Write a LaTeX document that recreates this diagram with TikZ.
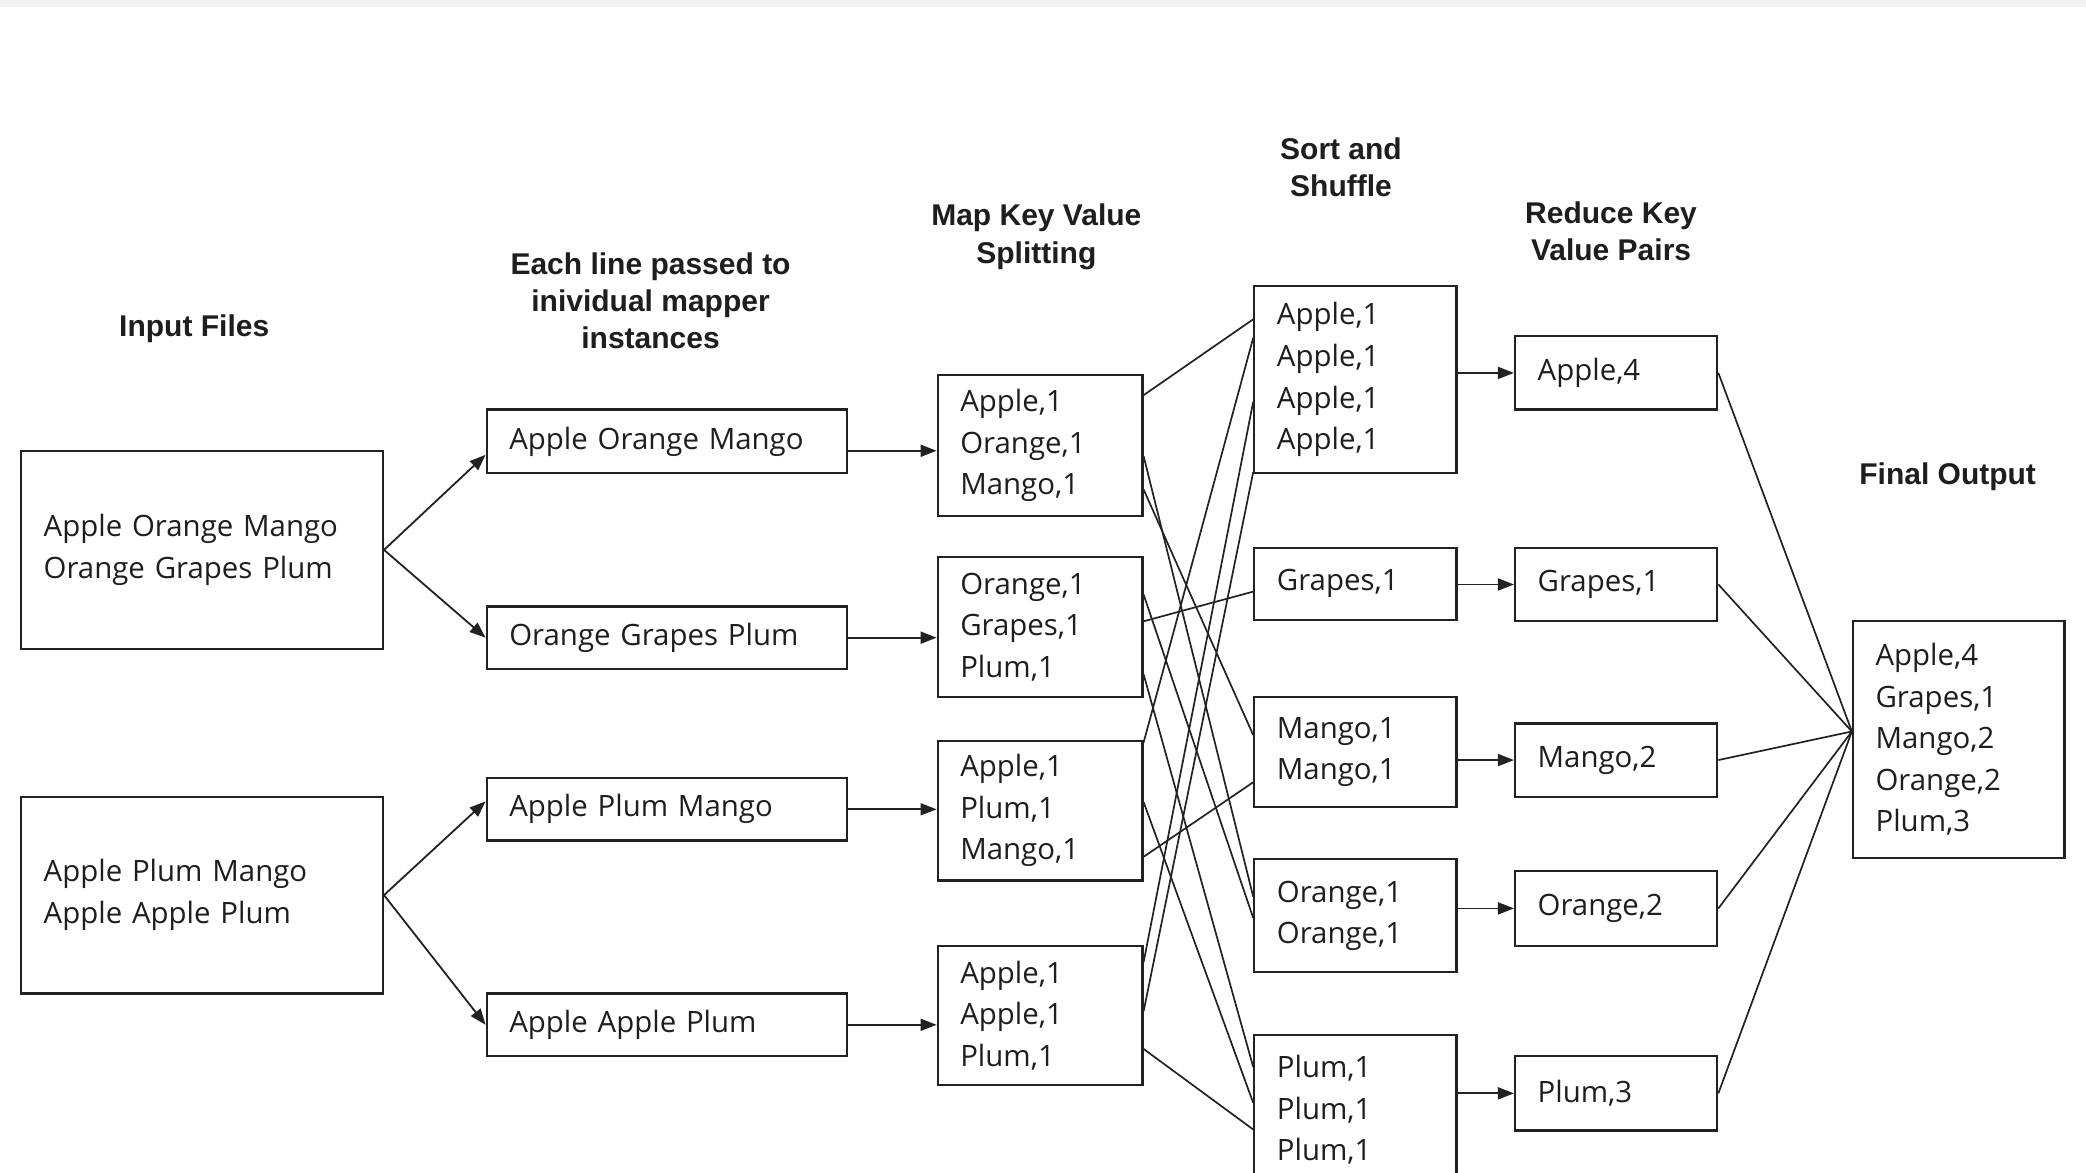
\documentclass[tikz,border=0pt]{standalone}
\usepackage{fontspec}
\setmainfont{Open Sans}
\newfontfamily\headfont{Liberation Sans}
\usetikzlibrary{arrows.meta,calc}

\definecolor{ink}{HTML}{1E1E1E}
\definecolor{linec}{HTML}{222222}
\definecolor{band}{HTML}{F2F2F2}

% one drawing unit = 0.6652pt, y grows downwards
\newcommand\databox[6]{%
  \pgfmathsetlengthmacro\bw{#4*0.6652pt}%
  \pgfmathsetlengthmacro\bh{#5*0.6652pt}%
  \pgfmathsetlengthmacro\tw{(#4-34)*0.6652pt}%
  \node[box, minimum width=\bw, minimum height=\bh, text width=\tw] (#1) at (#2,#3) {#6};}

\begin{document}
\begin{tikzpicture}[x=0.6652pt, y=-0.6652pt,
  box/.style={draw=linec, line width=1.1pt, anchor=north west, align=left,
    inner xsep=11.31pt, inner ysep=0pt, text=ink,
    font=\fontsize{14.7}{20.8}\selectfont},
  head/.style={align=center, text=ink,
    font=\headfont\bfseries\fontsize{15}{18.6}\selectfont},
  arr/.style={draw=linec, line width=0.9pt, -{Triangle[length=8pt,width=6pt]}},
  wire/.style={draw=linec, line width=0.85pt}]

\useasboundingbox (0,0) rectangle (1568,881);
\clip (0,0) rectangle (1568,881);
\fill[white] (0,0) rectangle (1568,881);
\fill[band] (0,0) rectangle (1568,5.5);

% column headings
\node[head] (hIn)  at (146,247) {Input Files};
\node[head] (hMap) at (489,226) {Each line passed to\\inividual mapper\\instances};
\node[head] (hKV)  at (779,178) {Map Key Value\\Splitting};
\node[head] (hSS)  at (1008,126) {Sort and\\Shuffle};
\node[head] (hRed) at (1211,174) {Reduce Key\\Value Pairs};
\node[head] (hOut) at (1464,358) {Final Output};

% input files
\databox{In1}{15}{338}{272}{149}{Apple Orange Mango\\Orange Grapes Plum}
\databox{In2}{15}{598}{272}{148}{Apple Plum Mango\\Apple Apple Plum}

% one line per mapper
\databox{M1}{365}{307}{271}{48}{Apple Orange Mango}
\databox{M2}{365}{455}{271}{47}{Orange Grapes Plum}
\databox{M3}{365}{584}{271}{47}{Apple Plum Mango}
\databox{M4}{365}{746}{271}{47}{Apple Apple Plum}

% map output
\databox{K1}{704}{281}{154}{106}{Apple,1\\Orange,1\\Mango,1}
\databox{K2}{704}{418}{154}{105}{Orange,1\\Grapes,1\\Plum,1}
\databox{K3}{704}{556}{154}{105}{Apple,1\\Plum,1\\Mango,1}
\databox{K4}{704}{710}{154}{105}{Apple,1\\Apple,1\\Plum,1}

% sorted and shuffled groups
\databox{S1}{942}{214}{152}{141}{Apple,1\\Apple,1\\Apple,1\\Apple,1}
\databox{S2}{942}{411}{152}{54}{Grapes,1}
\databox{S3}{942}{523}{152}{83}{Mango,1\\Mango,1}
\databox{S4}{942}{645}{152}{85}{Orange,1\\Orange,1}
\databox{S5}{942}{777}{152}{113}{Plum,1\\Plum,1\\Plum,1}

% reduced pairs
\databox{R1}{1138}{252}{152}{55}{Apple,4}
\databox{R2}{1138}{411}{152}{55}{Grapes,1}
\databox{R3}{1138}{543}{152}{55}{Mango,2}
\databox{R4}{1138}{654}{152}{56}{Orange,2}
\databox{R5}{1138}{793}{152}{56}{Plum,3}

% final result
\databox{F}{1392}{466}{159}{178}{Apple,4\\Grapes,1\\Mango,2\\Orange,2\\Plum,3}

% splitting into lines
\draw[arr] (In1.east) -- ($(M1.west)+(0,10)$);
\draw[arr] (In1.east) -- (M2.west);
\draw[arr] (In2.east) -- ($(M3.west)+(0,-6)$);
\draw[arr] (In2.east) -- (M4.west);

% mapping
\coordinate (m1o) at ($(M1.east)+(0,7)$);
\draw[arr] (m1o) -- (m1o -| K1.west);
\draw[arr] (M2.east) -- (M2.east -| K2.west);
\draw[arr] (M3.east) -- (M3.east -| K3.west);
\draw[arr] (M4.east) -- (M4.east -| K4.west);

% shuffle: each pair goes to the group of its key
\foreach \a/\da/\b/\db in {K1/16/S1/26, K1/62/S4/29, K1/87/S3/29.5,
    K2/29/S4/45, K2/49/S2/33.7, K2/89/S5/25,
    K3/2/S1/40, K3/47/S5/52, K3/88/S3/65,
    K4/13/S1/88, K4/50/S1/141, K4/78.5/S5/72}
  \draw[wire] ($(\a.north east)+(0,\da)$) -- ($(\b.north west)+(0,\db)$);

% reducing
\foreach \s/\r in {S1/R1, S2/R2, S3/R3, S4/R4, S5/R5}
  \draw[arr] (\s.east |- \r.west) -- (\r.west);

% collecting the output
\coordinate (fin) at ($(F.west)+(0,-6)$);
\foreach \r in {R1,R2,R3,R4,R5}
  \draw[wire] (\r.east) -- (fin);

\end{tikzpicture}
\end{document}
